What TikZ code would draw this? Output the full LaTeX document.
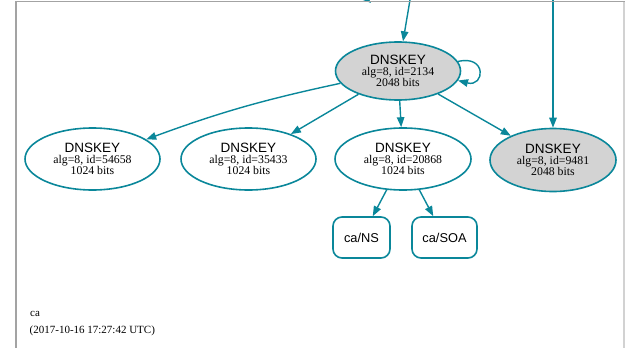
\documentclass[tikz,border=0pt]{standalone}
\usepackage{fontspec}
\setmainfont{Liberation Serif}
\newfontfamily\keyfont{Liberation Sans}
\usetikzlibrary{shapes.geometric,arrows.meta}

\definecolor{secure}{HTML}{0A879A}
\definecolor{sepfill}{HTML}{D3D3D3}
\definecolor{framedark}{HTML}{A3A3A3}
\definecolor{framelight}{HTML}{D2D2D2}

% three-line DNSKEY label: id, key size
\newcommand\keylabel[2]{{\keyfont\fontsize{13.5}{11.3}\selectfont DNSKEY}\\alg=8, id=#1\\#2 bits}

\tikzset{
  keynode/.style={ellipse, draw=secure, line width=1.6pt, inner sep=0pt,
    align=center, font=\fontsize{11.8}{11.3}\selectfont},
  ksknode/.style={keynode, fill=sepfill},
  rrnode/.style={rectangle, rounded corners=9pt, draw=secure, line width=1.6pt,
    inner sep=0pt, minimum height=41pt, font=\keyfont\fontsize{12.8}{14}\selectfont},
  edge/.style={draw=secure, line width=1.4pt,
    -{Triangle[length=10pt,width=7.5pt]}},
  framerule/.style={line width=1.5pt}
}

\begin{document}
\begin{tikzpicture}[x=1pt,y=-1pt]
\useasboundingbox (0,0) rectangle (625,348);

% keys
\node[ksknode, minimum width=125pt, minimum height=58pt] (main) at (398,71) {\keylabel{2134}{2048}};
\node[keynode, minimum width=135pt, minimum height=62pt] (k1) at (92.5,159) {\keylabel{54658}{1024}};
\node[keynode, minimum width=135pt, minimum height=62pt] (k2) at (248.5,159) {\keylabel{35433}{1024}};
\node[keynode, minimum width=136pt, minimum height=62pt] (k3) at (403,159) {\keylabel{20868}{1024}};
\node[ksknode, minimum width=126pt, minimum height=63pt] (k4) at (553,160) {\keylabel{9481}{2048}};

% RRsets
\node[rrnode, minimum width=57pt] (ns) at (361.5,237.5) {ca/NS};
\node[rrnode, minimum width=65pt] (soa) at (444.5,237.5) {ca/SOA};

% edges entering from above the visible area
\coordinate (inA) at (410.5,-3);
\coordinate (inB) at (553,-3);
\coordinate (inC0) at (352,-14);
\coordinate (inC) at (371,3);
\draw[edge] (inA) -- (main);
\draw[edge] (inB) -- (k4);
\draw[edge] (inC0) -- (inC);

% signing edges
\draw[edge] (main.9) .. controls +(29,-7) and +(27,7) .. (main.-9);
\draw[edge] (main) to[bend right=4] (k1);
\draw[edge] (main) -- (k2);
\draw[edge] (main) -- (k3);
\draw[edge] (main) -- (k4);
\draw[edge] (k3) -- (ns);
\draw[edge] (k3) -- (soa);

% zone name and timestamp
\node[anchor=base west, inner sep=0pt, font=\fontsize{11}{13}\selectfont] (zone) at (30,316) {ca};
\node[anchor=base west, inner sep=0pt, font=\fontsize{11}{13}\selectfont] (stamp) at (29.5,333) {(2017-10-16 17:27:42 UTC)};

% frame
\draw[framerule, framelight] (624,1.5) -- (624,348);
\draw[framerule, framedark] (16,348) -- (16,1.5) -- (625,1.5);
\end{tikzpicture}
\end{document}
